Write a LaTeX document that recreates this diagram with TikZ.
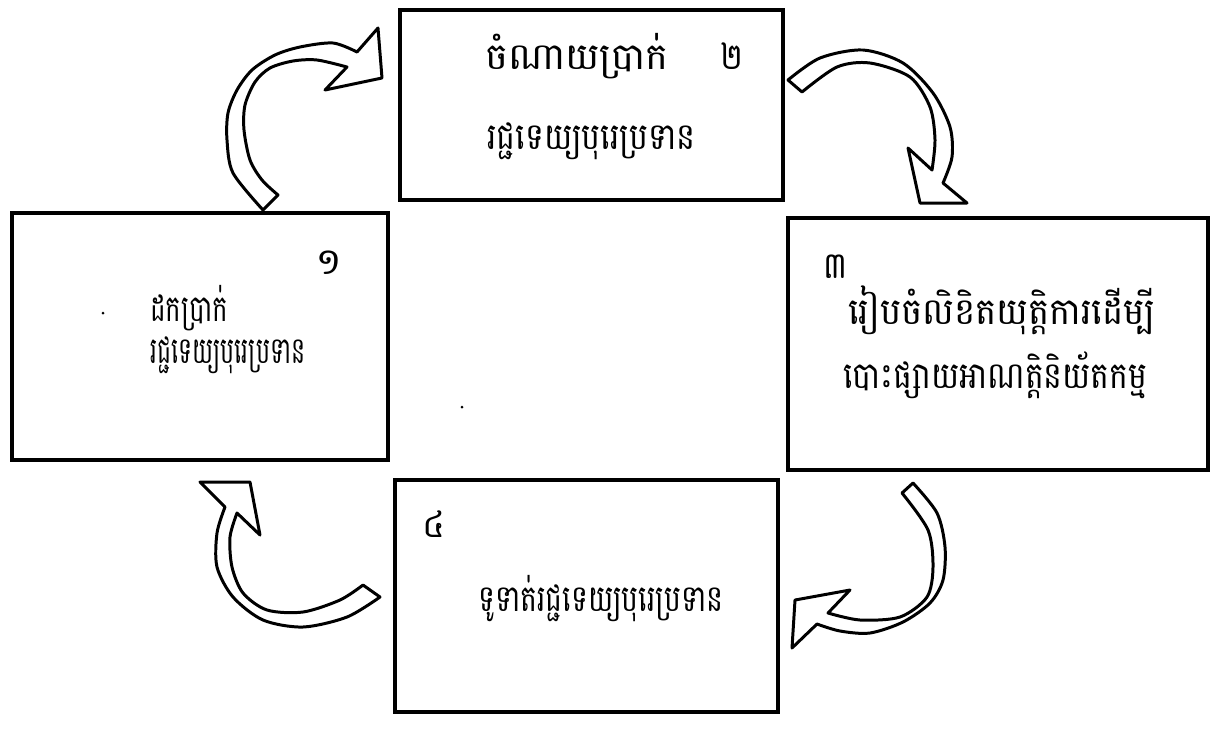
\documentclass[tikz,border=0pt]{standalone}
\usepackage{fontspec}
\usepackage{graphicx}
\newfontfamily\khmer[Script=Khmer]{Battambang}
\newlength\pxu \setlength\pxu{0.02cm}
\newcommand{\kt}[2]{\resizebox{#1\pxu}{\height}{#2}}
\begin{document}
\begin{tikzpicture}[x=0.02cm,y=-0.02cm,
  boxstyle/.style={draw, line width=2pt, fill=none},
  khtxt/.style={font=\khmer\fontsize{21}{25}\selectfont, inner sep=0pt, anchor=base west},
  blockarrow/.style={draw, fill=white, line width=1.7pt, line join=round},
  speck/.style={circle, fill=black, inner sep=0pt, minimum size=3\pxu}]
\useasboundingbox (0,0) rectangle (1219,731);
% boxes
\node[boxstyle, minimum width=376\pxu, minimum height=247\pxu, inner sep=0pt] (b1) at (200,336.5) {};
\node[boxstyle, minimum width=383\pxu, minimum height=190\pxu, inner sep=0pt] (b2) at (591.5,105) {};
\node[boxstyle, minimum width=420\pxu, minimum height=252\pxu, inner sep=0pt] (b3) at (998,344) {};
\node[boxstyle, minimum width=383\pxu, minimum height=232\pxu, inner sep=0pt] (b4) at (586.5,596) {};
% texts box 1
\node[khtxt] (n1) at (315,274) {\kt{27}{១}};
\node[khtxt] (t1a) at (150,321) {\kt{78}{ដកប្រាក់}};
\node[khtxt] (t1b) at (150,363) {\kt{155}{រជ្ជទេយ្យបុរេប្រទាន}};
% box 2
\node[khtxt] (t2a) at (485,69) {\kt{183}{ចំណាយប្រាក់}};
\node[khtxt] (n2) at (720,69) {\kt{23}{២}};
\node[khtxt] (t2b) at (487,149) {\kt{208}{រជ្ជទេយ្យបុរេប្រទាន}};
% box 3
\node[khtxt] (n3) at (823,278) {\kt{24}{៣}};
\node[khtxt] (t3a) at (848,324) {\kt{307}{រៀបចំលិខិតយុត្តិការដើម្បី}};
\node[khtxt] (t3b) at (843,388) {\kt{304}{បោះផ្សាយអាណត្តិនិយ័តកម្ម}};
% box 4
\node[khtxt] (n4) at (422,537) {\kt{23}{៤}};
\node[khtxt] (t4a) at (478,611) {\kt{245}{ទូទាត់រជ្ជទេយ្យបុរេប្រទាន}};
% specks
\node[speck] (s1) at (103,313) {};
\node[speck] (s2) at (462,407) {};
% arrow 1 (box1 -> box2)
\draw[blockarrow] plot[smooth] coordinates {(263,210) (233,173) (227,140) (228,113) (237,90) (252,70) (275,55) (300,47) (333,43) (357,52)}
  -- (378,28) -- (382,78) -- (325,90) -- (347,67)
  -- plot[smooth] coordinates {(347,67) (317,60) (293,61) (270,68) (255,82) (245,105) (244,130) (250,160) (262,180) (278,195)} -- cycle;
% arrow 2 (box2 -> box3)
\draw[blockarrow] plot[smooth] coordinates {(788,80) (820,58) (863,50) (903,63) (933,93) (950,127) (952,157) (943,183)}
  -- (967,203) -- (920,203) -- (908,148) -- (932,170)
  -- plot[smooth] coordinates {(932,170) (935,140) (930,107) (910,77) (870,63) (837,67) (802,92)} -- cycle;
% arrow 3 (box3 -> box4)
\draw[blockarrow] plot[smooth] coordinates {(913,483) (937,513) (945,547) (943,580) (930,603) (903,622) (870,633) (840,631) (817,624)}
  -- (792,648) -- (795,600) -- (850,590) -- (828,613)
  -- plot[smooth] coordinates {(828,613) (860,620) (900,617) (927,597) (933,567) (928,530) (902,493)} -- cycle;
% arrow 4 (box4 -> box1)
\draw[blockarrow] plot[smooth] coordinates {(380,597) (347,617) (303,627) (263,620) (233,597) (217,567) (217,533) (225,507)}
  -- (200,482) -- (250,482) -- (260,535) -- (237,513)
  -- plot[smooth] coordinates {(237,513) (230,537) (232,567) (243,593) (267,610) (303,612) (340,600) (363,585)} -- cycle;
\end{tikzpicture}
\end{document}
